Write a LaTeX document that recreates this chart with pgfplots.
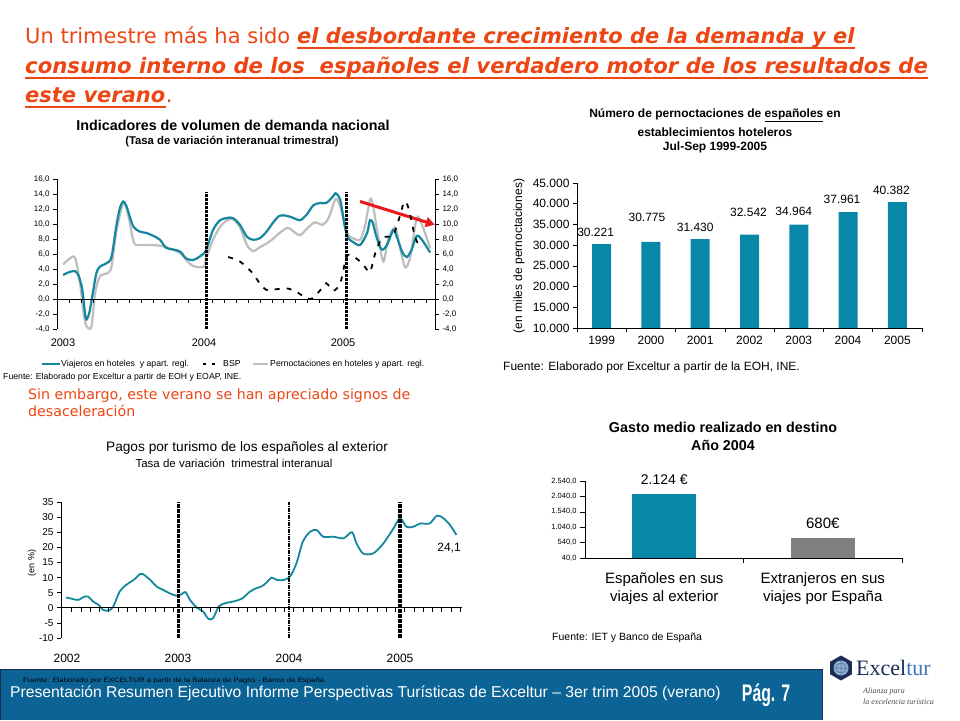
\documentclass[border=0pt]{standalone}
\usepackage{graphicx}
\usepackage{pgfplots}
\pgfplotsset{compat=1.18}
\usetikzlibrary{arrows.meta}
\usepackage{fontspec}
\setmainfont{Liberation Sans}
\newfontfamily\tahoma{DejaVu Sans}
\newfontfamily\serif{Liberation Serif}

\definecolor{hdrred}{RGB}{236,70,20}
\definecolor{arrowred}{RGB}{235,25,25}
\definecolor{lineteal}{RGB}{20,135,160}
\definecolor{linegray}{RGB}{190,190,190}
\definecolor{barteal}{RGB}{8,135,168}
\definecolor{bargray}{RGB}{128,128,128}
\definecolor{footblue}{RGB}{12,100,150}
\definecolor{navy}{RGB}{25,45,85}
\definecolor{turblue}{RGB}{60,120,180}

\newcommand{\fs}[1]{\fontsize{#1}{#1}\selectfont}

\pgfplotsset{
  base/.style={
    scale only axis, anchor=south west,
    axis line style={black, line width=0.6pt},
    tick style={black, line width=0.6pt},
    major tick length=4pt, tick align=outside,
  },
}
\tikzset{yearline/.style={black, line width=3pt, dash pattern=on 3pt off 1pt}}

\begin{document}
\begin{tikzpicture}
\path[use as bounding box, fill=white] (0pt,0pt) rectangle (960pt,720pt);

% ---- top left: demand indicators
\begin{axis}[base, at={(57pt,391pt)}, width=378pt, height=150pt,
  xmin=-0.77, xmax=31.62, ymin=-4, ymax=16, clip=false,
  axis x line=none, axis y line*=left,
  ytick={-4,-2,...,16},
  yticklabel style={font=\fs{8}, /pgf/number format/.cd, fixed, fixed zerofill,
    precision=1, use comma, assume math mode=true},
]
\addplot[linegray, line width=2.2pt, smooth] table {
-0.25 4.6
0.4 5.5
0.8 5.4
1.2 2.1
1.6 -2.8
1.9 -3.9
2.2 -3.5
2.5 0.8
2.9 3.0
3.5 3.4
3.9 4.3
4.3 8.8
4.9 12.8
5.3 11.4
5.8 7.6
6.3 7.2
7.5 7.2
8.6 6.9
9.8 6.1
10.3 5.2
10.9 4.4
11.8 4.3
12.05 5.6
12.6 7.9
13.2 9.6
13.8 10.5
14.3 10.6
14.9 9.6
15.5 7.2
16.05 6.4
16.6 6.9
17.2 7.4
17.8 8.1
18.3 8.8
19.0 9.5
19.5 9.0
20.05 8.5
20.6 9.3
21.3 10.2
22.0 9.9
22.5 10.8
23.1 13.3
23.5 12.3
24.1 8.8
24.6 8.1
25.2 7.9
25.6 9.6
26.05 13.2
26.3 12.5
26.8 7.9
27.2 5.0
27.6 7.9
28.05 9.4
28.3 9.2
28.8 5.6
29.1 4.2
29.5 5.6
30.05 10.8
30.5 9.9
31.2 6.8
};
\addplot[lineteal, line width=2.2pt, smooth] table {
-0.25 3.2
0.3 3.6
0.8 3.7
1.1 3.0
1.4 1.2
1.7 -2.6
2.0 -1.8
2.3 0.8
2.6 3.4
2.9 4.3
3.5 4.8
3.9 5.6
4.3 9.6
4.6 12.0
4.9 13.0
5.2 12.3
5.5 10.8
5.8 9.6
6.3 9.0
6.9 8.8
7.5 8.4
8.05 7.9
8.6 6.8
9.2 6.6
9.8 6.3
10.3 5.4
10.9 5.2
11.5 5.7
12.0 6.5
12.6 9.2
13.2 10.5
13.8 10.8
14.3 10.8
14.9 9.9
15.5 8.3
16.05 7.9
16.6 8.1
17.2 9.0
17.8 10.3
18.3 11.1
18.9 11.1
19.5 10.8
20.05 10.5
20.6 11.2
21.2 12.5
21.8 12.8
22.3 12.8
22.9 13.7
23.1 14.1
23.5 13.2
23.9 9.6
24.2 8.1
24.6 7.6
25.2 7.2
25.8 8.8
26.05 10.5
26.3 10.1
26.6 8.3
27.05 6.6
27.5 7.2
28.05 9.2
28.3 8.5
28.8 6.3
29.2 5.6
29.6 6.5
30.05 8.4
30.5 7.9
31.2 6.2
};
\draw[black, line width=0.6pt] (rel axis cs:0,0.2) -- (rel axis cs:1,0.2);
\pgfplotsinvokeforeach{0.3,1.32,...,30.9}{
  \draw[black, line width=0.6pt] (axis cs:#1,0) -- ++(0pt,-4pt);
}
\draw[yearline] (axis cs:12,-4) -- (axis cs:12,14.2);
\draw[yearline] (axis cs:24,-4) -- (axis cs:24,14.2);
\draw[arrowred, line width=3pt, -{Triangle[length=9pt,width=10pt]}]
  (axis cs:25.2,13.0) -- (axis cs:31.6,9.9);
\end{axis}

\begin{axis}[base, at={(57pt,391pt)}, width=378pt, height=150pt,
  xmin=-0.77, xmax=31.62, ymin=-4, ymax=16, clip=false,
  axis x line=none, axis y line*=right,
  ytick={-4,-2,...,16},
  yticklabel style={font=\fs{8}, /pgf/number format/.cd, fixed, fixed zerofill,
    precision=1, use comma, assume math mode=true},
]
\addplot[black, line width=1.8pt, dash pattern=on 5pt off 7pt, smooth] table {
13.9 5.6
14.9 5.0
15.9 3.6
16.6 2.1
17.2 1.2
18.0 1.3
19.0 1.4
19.7 1.0
20.3 0.4
20.9 0.0
21.3 0.3
21.8 1.2
22.3 2.1
22.9 1.1
23.5 2.1
23.9 4.8
24.2 5.9
24.9 5.4
25.6 4.3
26.05 3.6
26.5 6.1
27.05 8.1
27.5 8.3
28.05 8.5
28.6 11.0
29.0 13.0
29.4 11.9
29.9 8.3
30.3 7.2
30.6 7.4
};
\end{axis}

% ---- top right: overnight stays
\begin{axis}[base, at={(577pt,392pt)}, width=345pt, height=145pt,
  ybar, bar width=19pt, clip mode=individual,
  xmin=-0.5, xmax=6.5, ymin=10000, ymax=45000,
  axis x line*=bottom, axis y line*=left,
  ytick={10000,15000,...,45000}, scaled y ticks=false,
  yticklabel style={font=\fs{12}, /pgf/number format/.cd, fixed, precision=0,
    use comma, 1000 sep={.}, assume math mode=true},
  xtick={-0.5,0.5,...,6.5}, xticklabels={},
  extra x ticks={0,1,...,6},
  extra x tick labels={1999,2000,2001,2002,2003,2004,2005},
  extra x tick style={major tick length=0pt,
    tick label style={font=\fs{12}, yshift=-5pt}},
]
\addplot[fill=barteal, draw=none] coordinates {
(0,30221) (1,30775) (2,31430) (3,32542) (4,34964) (5,37961) (6,40382)};
\begin{scope}[every node/.style={font=\fs{12}}]
\node[xshift=-6pt, yshift=12pt] at (axis cs:0,30221) {30.221};
\node[xshift=-4pt, yshift=25pt] at (axis cs:1,30775) {30.775};
\node[xshift=-5pt, yshift=12pt] at (axis cs:2,31430) {31.430};
\node[xshift=-1pt, yshift=22pt] at (axis cs:3,32542) {32.542};
\node[xshift=-5pt, yshift=13pt] at (axis cs:4,34964) {34.964};
\node[xshift=-6pt, yshift=13pt] at (axis cs:5,37961) {37.961};
\node[xshift=-6pt, yshift=12pt] at (axis cs:6,40382) {40.382};
\end{scope}
\end{axis}

% ---- bottom left: payments abroad
\begin{axis}[base, at={(61pt,82pt)}, width=401pt, height=136pt,
  xmin=-0.65, xmax=42.7, ymin=-10, ymax=35, clip=false,
  axis x line=none, axis y line*=left,
  ytick={-10,-5,...,35},
  yticklabel style={font=\fs{10}, /pgf/number format/.cd, fixed, precision=0,
    assume math mode=true},
]
\addplot[lineteal, line width=1.8pt, smooth] table {
-0.1 3.4
0.5 3.0
1.2 2.6
1.9 3.7
2.3 3.7
2.8 2.1
3.4 1.0
3.9 -0.7
4.5 -0.9
5.0 0.4
5.7 5.4
6.4 7.6
7.2 9.2
7.9 11.2
8.2 11.2
9.0 9.2
9.7 7.0
10.4 5.9
11.1 4.8
11.8 4.0
12.4 4.5
12.8 5.2
13.3 2.6
14.0 0.1
14.7 -1.2
15.3 -3.7
15.8 -3.4
16.4 0.4
17.1 1.5
18.0 2.1
18.9 3.0
19.8 5.4
20.5 6.5
21.0 7.0
21.6 8.4
22.1 10.0
22.7 9.2
23.4 9.2
24.1 10.3
24.8 14.7
25.5 21.9
26.3 25.2
27.0 25.7
27.7 23.5
28.8 23.5
29.9 23.0
30.8 25.0
31.3 21.3
32.0 18.0
33.1 18.0
34.2 21.3
35.3 26.3
36.0 29.6
36.7 26.8
37.4 26.8
38.2 27.9
39.2 27.9
40.0 30.5
40.7 29.6
41.4 27.4
42.1 24.1
};
\draw[black, line width=0.6pt] (rel axis cs:0,0.2222) -- (rel axis cs:1,0.2222);
\pgfplotsinvokeforeach{0.5,1.5,...,42.5}{
  \draw[black, line width=0.6pt] (axis cs:#1,0) -- ++(0pt,-4pt);
}
\draw[black, line width=3pt, dash pattern=on 4pt off 1pt] (axis cs:12,-10) -- (axis cs:12,35);
\draw[black, line width=1.8pt, dash pattern=on 4pt off 1pt on 1pt off 1pt] (axis cs:24,-10) -- (axis cs:24,35);
\draw[black, line width=3.5pt, dash pattern=on 4pt off 1pt] (axis cs:36,-10) -- (axis cs:36,35);
\node[font=\fs{12}, anchor=north] at (axis cs:41.3,22.5) {24,1};
\end{axis}

% ---- bottom right: average spending
\begin{axis}[base, at={(585pt,162pt)}, width=317pt, height=77pt,
  ybar, bar width=64pt, clip mode=individual,
  xmin=-0.5, xmax=1.5, ymin=40, ymax=2540,
  axis x line*=bottom, axis y line*=left,
  ytick={40,540,...,2540},
  yticklabel style={font=\fs{7.5}, /pgf/number format/.cd, fixed, fixed zerofill,
    precision=1, use comma, assume math mode=true},
  xtick={0.5,1.5}, xticklabels={}, major tick length=5pt,
]
\addplot[fill=barteal, draw=none, bar shift=0pt] coordinates {(0,2124)};
\addplot[fill=bargray, draw=none, bar shift=0pt] coordinates {(1,680)};
\node[font=\fs{14}, yshift=14pt] at (axis cs:0,2124) {2.124 €};
\node[font=\fs{15}, yshift=15pt] at (axis cs:1,680) {680€};
\begin{scope}[every node/.style={font=\fs{15}}]
\node[yshift=-22pt] at (axis cs:0,40) {Españoles en sus};
\node[yshift=-40pt] at (axis cs:0,40) {viajes al exterior};
\node[yshift=-22pt] at (axis cs:1,40) {Extranjeros en sus};
\node[yshift=-40pt] at (axis cs:1,40) {viajes por España};
\end{scope}
\end{axis}

\begin{scope}[x=1pt, y=1pt]
% header
\node[anchor=base west, inner sep=0pt, text=hdrred, font=\tahoma\fs{21}] (h1) at (25,676) {Un trimestre más ha sido};
\node[anchor=base west, inner sep=0pt, text=hdrred, font=\tahoma\bfseries\itshape\fs{21}] (h1b) at ([xshift=6.5pt]h1.base east) {el desbordante crecimiento de la demanda y el};
\node[anchor=base west, inner sep=0pt, text=hdrred, font=\tahoma\bfseries\itshape\fs{21.2}] (h2) at (25,646) {consumo interno de los\ \ españoles el verdadero motor de los resultados de};
\node[anchor=base west, inner sep=0pt, text=hdrred, font=\tahoma\bfseries\itshape\fs{21}] (h3) at (25,617) {este verano};
\node[anchor=base west, inner sep=0pt, text=hdrred, font=\tahoma\fs{21}] at (h3.base east) {.};
\foreach \n in {h1b,h2,h3}
  \draw[hdrred, line width=2pt] ([yshift=-4.5pt]\n.base west) -- ([yshift=-4.5pt]\n.base east);

% top left texts
\node[font=\bfseries\fs{14.3}] at (233,595) {Indicadores de volumen de demanda nacional};
\node[font=\bfseries\fs{11.3}] at (232,578) {(Tasa de variación interanual trimestral)};
\node[font=\fs{11}] at (63,377) {2003};
\node[font=\fs{11}] at (204,377) {2004};
\node[font=\fs{11}] at (343,377) {2005};
\draw[lineteal, line width=2.2pt] (42,356) -- (60,356);
\node[anchor=west, inner sep=1pt, font=\fs{8.7}] at (60,356) {Viajeros en hoteles\ \ y apart. regl.};
\draw[black, line width=1.8pt, dash pattern=on 3pt off 6pt] (203,356) -- (218,356);
\node[anchor=west, inner sep=1pt, font=\fs{8.7}] at (222,356) {BSP};
\draw[linegray, line width=2.2pt] (253,356) -- (268,356);
\node[anchor=west, inner sep=1pt, font=\fs{8.7}] at (269,356) {Pernoctaciones en hoteles y apart. regl.};
\node[anchor=west, inner sep=1pt, font=\fs{8.7}] at (2,343) {Fuente: Elaborado por Exceltur a partir de EOH y EOAP, INE.};
\node[anchor=base west, inner sep=0pt, text=hdrred, font=\tahoma\fs{14.2}] at (28,320) {Sin embargo, este verano se han apreciado signos de};
\node[anchor=base west, inner sep=0pt, text=hdrred, font=\tahoma\fs{14.2}] at (28,303) {desaceleración};

% top right texts
\node[font=\bfseries\fs{12}] at (715,605) {Número de pernoctaciones de \underline{españoles} en};
\node[font=\bfseries\fs{12}] at (715,588) {establecimientos hoteleros};
\node[font=\bfseries\fs{12}] at (715,573) {Jul-Sep 1999-2005};
\node[rotate=90, font=\fs{12}] at (519,464) {(en miles de pernoctaciones)};
\node[anchor=west, inner sep=1pt, font=\fs{12}] at (502,353) {Fuente: Elaborado por Exceltur a partir de la EOH, INE.};

% bottom left texts
\node[font=\fs{13.7}] at (247,272) {Pagos por turismo de los españoles al exterior};
\node[font=\fs{11.5}] at (234,257) {Tasa de variación\ \ trimestral interanual};
\node[rotate=90, font=\fs{9}] at (32,157) {(en \%)};
\node[font=\fs{12}] at (67,62) {2002};
\node[font=\fs{12}] at (178,62) {2003};
\node[font=\fs{12}] at (289,62) {2004};
\node[font=\fs{12}] at (400,62) {2005};

% bottom right texts
\node[font=\bfseries\fs{14.3}] at (723,293) {Gasto medio realizado en destino};
\node[font=\bfseries\fs{14.3}] at (723,275) {Año 2004};
\node[anchor=west, inner sep=1pt, font=\fs{10.5}] at (551,82) {Fuente: IET y Banco de España};

% footer
\fill[footblue] (0,0) rectangle (822,51);
\draw[navy, line width=0.8pt] (0.4,0) -- (0.4,51) -- (822,51) -- (822,0);
\node[anchor=west, inner sep=0pt, text=black, font=\fs{6.5}] at (23,39) {\scalebox{1.2}[1]{Fuente: Elaborado por EXCELTUR a partir de la Balanza de Pagos - Banco de España}};
\node[anchor=west, inner sep=0pt, text=white, font=\fs{15.7}] at (10,26.5) {Presentación Resumen Ejecutivo Informe Perspectivas Turísticas de Exceltur – 3er trim 2005 (verano)};
\node[text=white, font=\bfseries\fs{24}] at (766,25) {\scalebox{0.66}[1]{Pág. 7}};

% logo
\fill[navy] (841,52) +(90:12.5) -- +(30:12.5) -- +(-30:12.5) -- +(-90:12.5) -- +(-150:12.5) -- +(150:12.5) -- cycle;
\fill[turblue!60!white] (841,52) circle (7.5);
\draw[navy!70, line width=0.5pt] (841,52) circle (5) (833.5,52) -- (848.5,52) (841,44.5) -- (841,59.5);
\node[anchor=west, inner sep=0pt, font=\serif\fs{22}] at (856,52) {\textcolor{navy}{Excel}\textcolor{turblue}{tur}};
\node[anchor=west, inner sep=0pt, text=black!70, font=\serif\itshape\fs{8}] at (863,28) {Alianza para};
\node[anchor=west, inner sep=0pt, text=black!70, font=\serif\itshape\fs{8}] at (863,18) {la excelencia turística};
\end{scope}
\end{tikzpicture}
\end{document}
